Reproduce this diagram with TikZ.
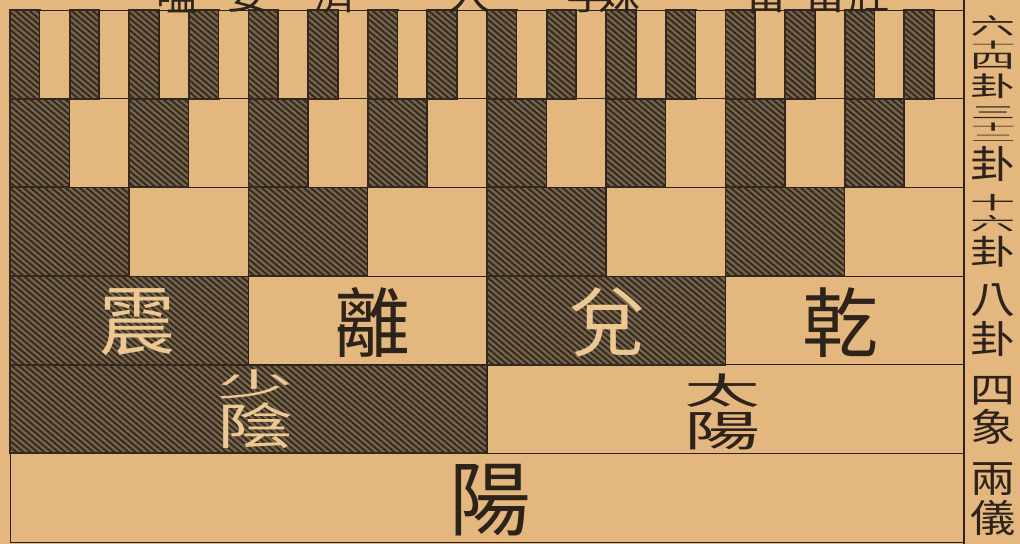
\documentclass[tikz,border=0pt]{standalone}
\usepackage{fontspec}
\usepackage{graphicx}
\newfontfamily\cjk{Noto Sans CJK TC}
\usepackage{xcolor}
\definecolor{paper}{HTML}{E3B77E}
\definecolor{pale}{HTML}{EDC893}
\definecolor{shade}{HTML}{75654C}
\definecolor{hatch}{HTML}{35291F}
\definecolor{ink}{HTML}{2E231B}
\usetikzlibrary{patterns.meta}
\newcommand{\squash}[2]{\scalebox{1}[#1]{#2}}

\begin{document}
\begin{tikzpicture}[x=0.025cm, y=-0.025cm,
	darkcell/.style={preaction={fill=shade}, pattern={Lines[angle=-40,distance=3.2pt,line width=1.4pt]}, pattern color=hatch, draw=hatch, line width=1.4pt},
	lightcell/.style={fill=paper, draw=ink, line width=0.6pt},
	bigchar/.style={inner sep=0pt, font=\cjk\fontsize{54}{54}\selectfont},
	sidelabel/.style={inner sep=0pt, text=ink, font=\cjk\fontsize{32}{32}\selectfont},
	topname/.style={inner sep=0pt, anchor=south, text=ink, font=\cjk\fontsize{30}{30}\selectfont}]

		% paper
		\fill[paper] (0,0) rectangle (1020,544);
		\useasboundingbox (0,0) rectangle (1020,544);

		% ================= the yang half, row by row =================
		\draw[lightcell] (10,453.33) rectangle (964,542);
		\foreach \r in {1,...,5}{
			\pgfmathtruncatemacro{\n}{2^\r}
			\pgfmathsetmacro{\w}{954/\n}
			\pgfmathsetmacro{\ylo}{542-\r*88.67}
			\pgfmathsetmacro{\yhi}{\ylo-88.67}
			\foreach \k in {1,...,\n}{
				\pgfmathsetmacro{\xa}{10+(\k-1)*\w}
				\pgfmathsetmacro{\xb}{10+\k*\w}
				\ifodd\k
					\draw[darkcell] (\xa,\yhi) rectangle (\xb,\ylo);
				\else
					\draw[lightcell] (\xa,\yhi) rectangle (\xb,\ylo);
				\fi
			}
		}

		% right rule of the row titles
		\draw[ink, line width=1.2pt] (964,0) -- (964,544);

		% ================= names inside the cells =================
		\node[bigchar, text=pale] (zhen) at (137,322) {震};
		\node[bigchar, text=ink] (li) at (372,322) {離};
		\node[bigchar, text=pale] (dui) at (607,322) {兌};
		\node[bigchar, text=ink] (qian) at (840,323) {乾};

		\node[bigchar, text=pale] (shaoyin) at (255,409) {\shortstack{\squash{0.42}{少}\\\squash{0.65}{陰}}};
		\node[bigchar, text=ink] (taiyang) at (722,412) {\shortstack{\squash{0.48}{太}\\\squash{0.56}{陽}}};

		\node[bigchar, text=ink, font=\cjk\fontsize{58}{58}\selectfont] (yang) at (490,500) {陽};

		% hexagram names, cut off by the top edge
		\begin{scope}
			\clip (0,0) rectangle (1020,544);
			\foreach \x/\ch in {178/嗑, 248/妄, 336/濟, 470/人, 588/孚, 620/妹, 767/畜, 826/畜, 870/壯}
				\node[topname] (top\x) at (\x,13) {\ch};
		\end{scope}

		% ================= row titles =================
		\node[sidelabel] (lab64) at (993,57) {\shortstack{\squash{0.5}{六}\\\squash{0.2}{十}\\\squash{0.45}{四}\\\squash{0.6}{卦}}};
		\node[sidelabel] (lab32) at (993,144) {\shortstack{\squash{0.35}{三}\\\squash{0.2}{十}\\\squash{0.2}{二}\\\squash{0.85}{卦}}};
		\node[sidelabel] (lab16) at (993,231) {\shortstack{\squash{0.4}{十}\\\squash{0.4}{六}\\\squash{0.75}{卦}}};
		\node[sidelabel] (lab8) at (993,320) {\shortstack{\squash{0.85}{八}\\\squash{0.85}{卦}}};
		\node[sidelabel] (lab4) at (993,410) {\shortstack{\squash{0.8}{四}\\\squash{0.85}{象}}};
		\node[sidelabel] (lab2) at (993,499) {\shortstack{\squash{0.85}{兩}\\\squash{0.85}{儀}}};

	\end{tikzpicture}
\end{document}
